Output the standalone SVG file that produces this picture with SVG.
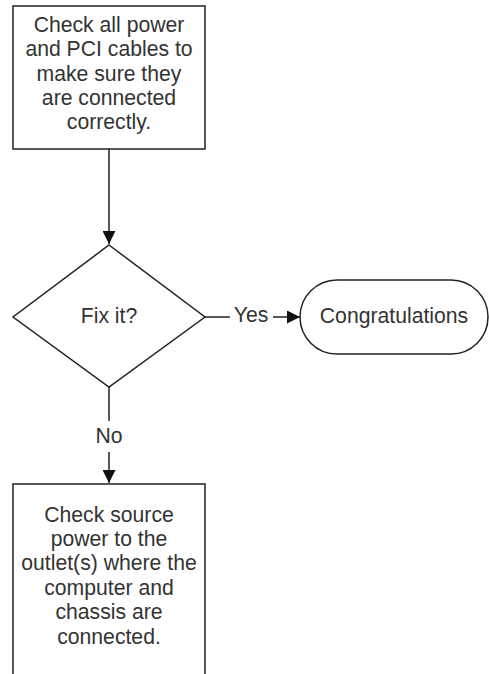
<svg xmlns="http://www.w3.org/2000/svg" width="489" height="674" viewBox="0 0 489 674">
<style>
.shape{fill:#fff;stroke:#222;stroke-width:1.5}
.line{fill:none;stroke:#222;stroke-width:1.5}
text{font-family:"Liberation Sans",Arial,sans-serif;font-size:21.2px;fill:#333;text-anchor:middle}
</style>
<defs>
<marker id="arr" viewBox="0 0 10 10" refX="10" refY="5" markerWidth="13" markerHeight="13" markerUnits="userSpaceOnUse" orient="auto">
<path d="M0,0 L10,5 L0,10 Z" fill="#111"/>
</marker>
</defs>
<rect width="489" height="674" fill="#fff"/>
<g id="connectors">
<line class="line" x1="109" y1="149" x2="109" y2="244" marker-end="url(#arr)"/>
<line class="line" x1="205" y1="317" x2="230" y2="317"/>
<line class="line" x1="273" y1="317" x2="300" y2="317" marker-end="url(#arr)"/>
<line class="line" x1="109" y1="387" x2="109" y2="421"/>
<line class="line" x1="109" y1="452" x2="109" y2="483" marker-end="url(#arr)"/>
<text x="251" y="322">Yes</text>
<text x="109" y="443">No</text>
</g>
<g id="check-cables">
<rect class="shape" x="13" y="6" width="192" height="143"/>
<text x="109" y="32">Check all power</text>
<text x="109" y="56.3">and PCI cables to</text>
<text x="109" y="80.7">make sure they</text>
<text x="109" y="105">are connected</text>
<text x="109" y="129.4">correctly.</text>
</g>
<g id="fix-it">
<polygon class="shape" points="109,245 205,317 109,387 13,317"/>
<text x="109" y="322.5">Fix it?</text>
</g>
<g id="congratulations">
<rect class="shape" x="300" y="280" width="188" height="74" rx="37" ry="37"/>
<text x="394" y="322.5">Congratulations</text>
</g>
<g id="check-source">
<rect class="shape" x="13" y="484" width="192" height="200"/>
<text x="109" y="521.7">Check source</text>
<text x="109" y="546">power to the</text>
<text x="109" y="570.4">outlet(s) where the</text>
<text x="109" y="594.8">computer and</text>
<text x="109" y="619.2">chassis are</text>
<text x="109" y="643.5">connected.</text>
</g>
</svg>
